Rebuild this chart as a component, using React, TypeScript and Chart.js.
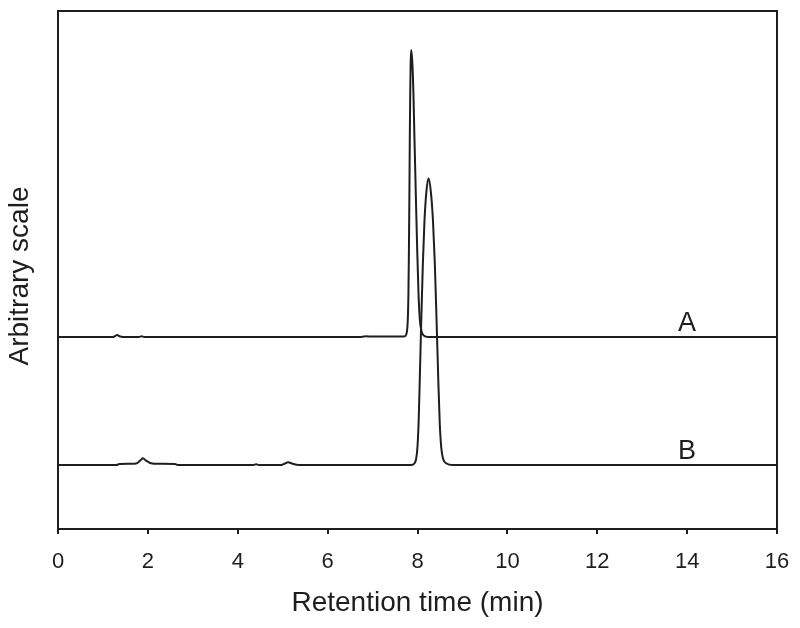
import React, { useEffect, useRef } from "react";
import { Chart, registerables } from "chart.js";

Chart.register(...registerables);

// ---- data ----
const xTickValues = [0, 2, 4, 6, 8, 10, 12, 14, 16];

const timesA = [
  0, 1.22, 1.28, 1.32, 1.37, 1.44, 1.8, 1.86, 1.92, 6.7, 6.85, 7.0, 7.682,
  7.738, 7.766, 7.784, 7.798, 7.809, 7.82, 7.829, 7.838, 7.847, 7.86, 7.887,
  7.909, 7.931, 7.962, 7.994, 8.023, 8.052, 8.089, 8.138, 8.239, 16,
];
const signalA = [
  37.07, 37.07, 37.3, 37.45, 37.2, 37.07, 37.07, 37.2, 37.07, 37.07, 37.2,
  37.15, 37.15, 37.35, 38.18, 40.39, 45.38, 53.69, 64.77, 75.85, 84.16, 89.7,
  92.47, 89.7, 84.16, 75.85, 64.77, 53.69, 45.38, 40.39, 38.18, 37.35, 37.07,
  37.07,
];

const timesB = [
  0, 1.3, 1.37, 1.7, 1.76, 1.84, 1.89, 1.96, 2.05, 2.15, 2.6, 2.66, 4.35, 4.41,
  4.47, 4.97, 5.04, 5.12, 5.22, 5.36, 7.86, 7.93, 7.968, 7.998, 8.025, 8.051,
  8.083, 8.119, 8.155, 8.196, 8.245, 8.299, 8.345, 8.386, 8.425, 8.462, 8.494,
  8.529, 8.573, 8.648, 8.775, 16,
];
const signalB = [
  12.36, 12.36, 12.55, 12.6, 12.7, 13.3, 13.65, 13.2, 12.75, 12.6, 12.55,
  12.36, 12.36, 12.5, 12.36, 12.36, 12.6, 12.9, 12.6, 12.36, 12.36, 12.64,
  13.47, 15.68, 20.66, 28.97, 40.04, 51.11, 59.41, 64.94, 67.71, 64.94, 59.41,
  51.11, 40.04, 28.97, 20.66, 15.68, 13.47, 12.64, 12.36, 12.36,
];

const traceNames = ["A", "B"];
const xAxisTitle = "Retention time (min)";
const yAxisTitle = "Arbitrary scale";

// ---- styles ----
const INK = "#1e1e1e";
const FONT = "'Liberation Sans', Arial, Helvetica, sans-serif";

const toPoints = (xs: number[], ys: number[]) =>
  xs.map((x, i) => ({ x, y: ys[i] }));

const framePlugin = {
  id: "frameAndLabels",
  afterDraw(chart: any) {
    const { ctx, chartArea, scales } = chart;
    const { left, top, right, bottom } = chartArea;
    ctx.save();
    ctx.strokeStyle = INK;
    ctx.lineWidth = 2;
    ctx.beginPath();
    ctx.moveTo(left, top);
    ctx.lineTo(right, top);
    ctx.lineTo(right, bottom);
    ctx.stroke();

    // trace labels above each baseline
    ctx.fillStyle = INK;
    ctx.font = `27px ${FONT}`;
    ctx.textAlign = "center";
    ctx.textBaseline = "alphabetic";
    const baselines = [signalA[signalA.length - 1], signalB[signalB.length - 1]];
    traceNames.forEach((name, i) => {
      const px = scales.x.getPixelForValue(14);
      const py = scales.y.getPixelForValue(baselines[i]) - 6;
      ctx.fillText(name, px, py);
    });

    // y-axis title
    ctx.save();
    ctx.translate(20, (top + bottom) / 2 + 6);
    ctx.rotate(-Math.PI / 2);
    ctx.font = `28px ${FONT}`;
    ctx.textAlign = "center";
    ctx.textBaseline = "middle";
    ctx.fillText(yAxisTitle, 0, 0);
    ctx.restore();

    ctx.restore();
  },
};

export default function App() {
  const canvasRef = useRef<HTMLCanvasElement | null>(null);

  useEffect(() => {
    if (!canvasRef.current) return;
    Chart.defaults.font.family = FONT;
    const chart = new Chart(canvasRef.current, {
      type: "line",
      data: {
        datasets: [
          {
            label: traceNames[0],
            data: toPoints(timesA, signalA),
            borderColor: INK,
            borderWidth: 2,
            pointRadius: 0,
            cubicInterpolationMode: "monotone",
            fill: false,
          },
          {
            label: traceNames[1],
            data: toPoints(timesB, signalB),
            borderColor: INK,
            borderWidth: 2,
            pointRadius: 0,
            cubicInterpolationMode: "monotone",
            fill: false,
          },
        ],
      },
      options: {
        responsive: false,
        animation: false,
        layout: { padding: { top: 11, right: 23, left: 0, bottom: 0 } },
        plugins: {
          legend: { display: false },
          tooltip: { enabled: false },
        },
        scales: {
          x: {
            type: "linear",
            min: 0,
            max: 16,
            afterBuildTicks: (scale: any) => {
              scale.ticks = xTickValues.map((v) => ({ value: v }));
            },
            afterFit: (scale: any) => {
              scale.height = 99;
              scale.paddingLeft = 0;
              scale.paddingRight = 0;
            },
            ticks: {
              autoSkip: false,
              maxRotation: 0,
              padding: 15,
              color: INK,
              font: { size: 22, family: FONT },
            },
            grid: {
              display: true,
              drawOnChartArea: false,
              drawTicks: true,
              tickLength: 5,
              color: INK,
              lineWidth: 2,
            },
            border: { display: true, color: INK, width: 2 },
            title: {
              display: true,
              text: xAxisTitle,
              color: INK,
              font: { size: 28, family: FONT },
              padding: { top: 0, bottom: 8 },
            },
          },
          y: {
            type: "linear",
            min: 0,
            max: 100,
            afterFit: (scale: any) => {
              scale.width = 58;
              scale.paddingTop = 0;
              scale.paddingBottom = 0;
            },
            ticks: { display: false },
            grid: { display: false, drawTicks: false },
            border: { display: true, color: INK, width: 2 },
            title: { display: false, text: yAxisTitle },
          },
        },
      },
      plugins: [framePlugin],
    } as any);
    return () => chart.destroy();
  }, []);

  return (
    <div
      style={{
        position: "fixed",
        left: 0,
        top: 0,
        width: 800,
        height: 628,
        background: "#fff",
      }}
    >
      <canvas ref={canvasRef} width={800} height={628} />
    </div>
  );
}
